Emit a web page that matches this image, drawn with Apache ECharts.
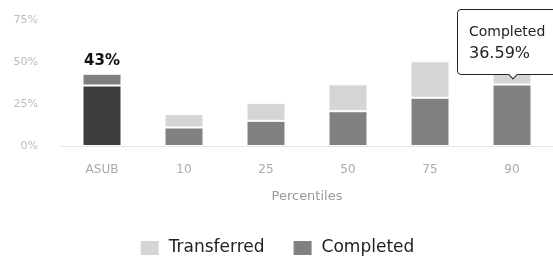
<!DOCTYPE html>
<html>
<head>
<meta charset="utf-8">
<script src="https://cdn.jsdelivr.net/npm/echarts@6/dist/echarts.min.js"></script>
<style>
html, body { margin: 0; padding: 0; background: #fff; overflow: hidden; }
#chart { width: 553px; height: 256px; }
</style>
</head>
<body>
<div id="chart"></div>
<script>
var categories = ['ASUB', '10', '25', '50', '75', '90'];
var completed = [36, 11, 15, 20.7, 28.7, 36.59];
var transferred = [7, 8, 10.7, 16, 21.7, 15];
var yTicks = [0, 25, 50, 75];
var asubTotalLabel = '43%';

var chart = echarts.init(document.getElementById('chart'));

function colorize(values, first, rest, withLabel) {
    var out = [];
    for (var i = 0; i < values.length; i++) {
        var item = { value: values[i], itemStyle: { color: i === 0 ? first : rest } };
        if (withLabel && i === 0) {
            item.label = {
                show: true,
                position: 'top',
                distance: 5,
                formatter: asubTotalLabel,
                fontSize: 15,
                fontWeight: 'bold',
                color: '#111',
                fontFamily: 'DejaVu Sans'
            };
        }
        out.push(item);
    }
    return out;
}

var option = {
    animation: false,
    textStyle: { fontFamily: 'DejaVu Sans' },
    grid: { left: 61, top: 20, width: 494, bottom: 110 },
    tooltip: {
        trigger: 'item',
        triggerOn: 'none',
        alwaysShowContent: true,
        position: 'top',
        backgroundColor: '#fff',
        borderColor: '#222',
        borderWidth: 1,
        borderRadius: 4,
        padding: [10, 22, 10, 11],
        textStyle: { fontSize: 14, color: '#222', fontFamily: 'DejaVu Sans' },
        extraCssText: 'box-shadow:none;line-height:22px;white-space:nowrap;',
        formatter: function (p) {
            return p.seriesName + '<br/><span style="font-size:16px">' + p.value + '%</span>';
        }
    },
    legend: {
        top: 234,
        left: 'center',
        data: ['Transferred', 'Completed'],
        itemWidth: 20,
        itemHeight: 16,
        itemGap: 27,
        icon: 'rect',
        textStyle: { fontSize: 17, color: '#222', fontFamily: 'DejaVu Sans', padding: [0, 0, 0, 4] }
    },
    xAxis: {
        type: 'category',
        data: categories,
        name: 'Percentiles',
        nameLocation: 'middle',
        nameGap: 44,
        nameTextStyle: { fontSize: 13, color: '#999' },
        axisLine: { lineStyle: { color: '#e6e6e6' } },
        axisTick: { show: false },
        axisLabel: { margin: 18, fontSize: 12, color: '#aaa' }
    },
    yAxis: {
        type: 'value',
        min: yTicks[0],
        max: yTicks[yTicks.length - 1],
        interval: 25,
        splitLine: { show: false },
        axisLine: { show: false },
        axisTick: { show: false },
        axisLabel: { margin: 23, fontSize: 11, color: '#bbb', formatter: '{value}%' }
    },
    series: [{
        name: 'Completed',
        type: 'bar',
        stack: 'total',
        barWidth: 39,
        itemStyle: { color: '#808281', borderColor: '#fff', borderWidth: 1 },
        data: colorize(completed, '#3b3e3d', '#808281', false)
    }, {
        name: 'Transferred',
        type: 'bar',
        stack: 'total',
        barWidth: 39,
        itemStyle: { color: '#d3d5d6', borderColor: '#fff', borderWidth: 1 },
        data: colorize(transferred, '#7e807f', '#d3d5d6', true)
    }]
};

chart.setOption(option);
chart.dispatchAction({ type: 'showTip', seriesIndex: 0, dataIndex: 5 });
</script>
</body>
</html>
